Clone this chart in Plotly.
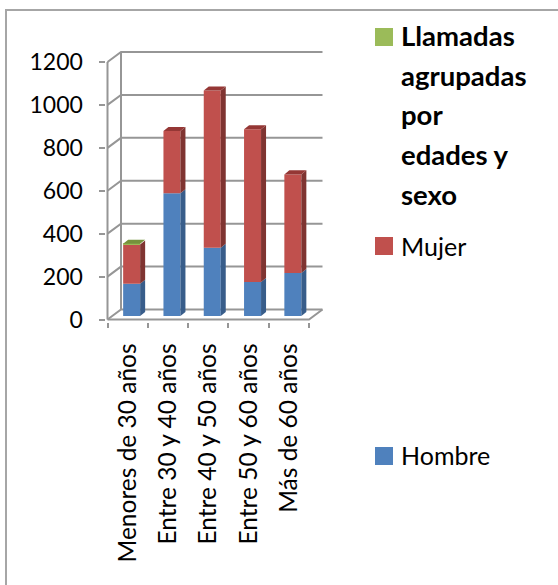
import plotly.graph_objects as go

categories = ["Menores de 30 años", "Entre 30 y 40 años", "Entre 40 y 50 años", "Entre 50 y 60 años", "Más de 60 años"]
hombre = [150, 572, 318, 158, 200]
mujer = [183, 290, 733, 712, 460]
otros = [4, 0, 0, 0, 0]
y_ticks = [0, 200, 400, 600, 800, 1000, 1200]
series_names = ["Hombre", "Mujer", "Llamadas agrupadas por edades y sexo"]
title_lines = ["Llamadas", "agrupadas", "por", "edades y", "sexo"]
FONT = "Lato, Carlito, sans-serif"
TXT = "#000000"
GRID = "#969696"

W, H = 558, 585
px_x = 40.3  # pixels per category
px_y = 257.5 / 1200  # pixels per value unit
dep_x, dep_y = 13.5 / px_x, 10 / px_y  # depth of the 3D box
x0, x1 = -0.5, 4.5
pad = 2
L, R = 107.5 - pad, 309 + 13.5 + pad
B, T = 319.5 + pad, 62 - 10 - pad
pad_x, pad_y = pad / px_x, pad / px_y

fig = go.Figure()

def face(xs, ys, color):
    fig.add_trace(go.Scatter(x=xs, y=ys, mode="lines", fill="toself", fillcolor=color,
                             line=dict(width=0, color=color), hoverinfo="skip", showlegend=False))

shapes = []

def line(xs, ys):
    path = "M" + "L".join(f"{a},{b}" for a, b in zip(xs, ys))
    shapes.append(dict(type="path", path=path, xref="x", yref="y", layer="below",
                       line=dict(color=GRID, width=2), fillcolor="rgba(0,0,0,0)"))

# walls
for v in y_ticks:
    line([x0, x0 + dep_x, x1 + dep_x], [v, v + dep_y, v + dep_y])
line([x0, x0], [0, 1200])
line([x0 + dep_x, x0 + dep_x], [dep_y, 1200 + dep_y])
line([x0, x1, x1 + dep_x], [0, 0, dep_y])

# bars
bar_w = 17 / px_x
shift_x, shift_y = 4 / px_x, 3.5 / px_y
side_x, side_y = 5 / px_x, 4 / px_y
colors = [("#4F81BD", "#385D8A", "#3E6696"), ("#C0504D", "#7F3431", "#953735"), ("#9BBB59", "#6F8A3A", "#76923C")]
xc = [i + shift_x for i in range(len(categories))]
bottom = [shift_y] * len(categories)
for name, vals, (front, side, top) in zip(series_names, [hombre, mujer, otros], colors):
    fig.add_trace(go.Bar(x=xc, y=vals, base=bottom, width=bar_w, marker=dict(color=front, line=dict(width=0)),
                         name=name, showlegend=False))
    tops = [b + v for b, v in zip(bottom, vals)]
    for c, b, t, v in zip(xc, bottom, tops, vals):
        if v <= 0:
            continue
        r = c + bar_w / 2
        face([r, r + side_x, r + side_x, r, r], [b, b + side_y, t + side_y, t, b], side)
    bottom = tops
for i, c in enumerate(xc):
    seg = [hombre[i], mujer[i], otros[i]]
    idx = max(j for j, v in enumerate(seg) if v > 0)
    t = bottom[i]
    l, r = c - bar_w / 2, c + bar_w / 2
    face([l, r, r + side_x, l + side_x, l], [t, t, t + side_y, t + side_y, t], colors[idx][2])

shapes.append(dict(type="rect", xref="paper", yref="paper", x0=6 / W, x1=1.02, y0=-0.02, y1=1 - 10 / H,
                   line=dict(color="#A6A6A6", width=2), fillcolor="rgba(0,0,0,0)"))
for yy, c in [((28, 46), "#9BBB59"), ((237, 255), "#C0504D"), ((447, 465), "#4F81BD")]:
    shapes.append(dict(type="rect", xref="paper", yref="paper", x0=375 / W, x1=393 / W, y0=1 - yy[1] / H,
                       y1=1 - yy[0] / H, line=dict(width=0), fillcolor=c))

annotations = [
    dict(text=t, x=399 / W, y=1 - (35 + 40 * i) / H, xref="paper", yref="paper", xanchor="left", yanchor="middle",
         showarrow=False, font=dict(size=27.5, family=FONT, color=TXT, weight="bold"))
    for i, t in enumerate(title_lines)
] + [
    dict(text=series_names[1], x=399 / W, y=1 - 246 / H, xref="paper", yref="paper", xanchor="left", yanchor="middle",
         showarrow=False, font=dict(size=25, family=FONT, color=TXT)),
    dict(text=series_names[0], x=399 / W, y=1 - 455 / H, xref="paper", yref="paper", xanchor="left", yanchor="middle",
         showarrow=False, font=dict(size=25, family=FONT, color=TXT)),
]

fig.update_layout(
    template="none",
    width=W, height=H, autosize=False, barmode="overlay",
    paper_bgcolor="white", plot_bgcolor="rgba(0,0,0,0)", showlegend=False,
    margin=dict(l=0, r=0, t=0, b=0, autoexpand=False),
    font=dict(family=FONT, color=TXT),
    xaxis=dict(domain=[L / W, R / W], range=[x0 - pad_x, x1 + dep_x + pad_x], tickmode="array", automargin=False,
               tickvals=list(range(len(categories))), ticktext=categories, tickangle=-90, showgrid=False,
               zeroline=False, ticks="", ticklen=0, ticklabelstandoff=16, showline=False,
               minor=dict(tickmode="array", tickvals=[x0 + i for i in range(len(categories) + 1)], ticks="outside",
                          ticklen=5, tickwidth=2, tickcolor=GRID, showgrid=False),
               tickfont=dict(size=24.5, family=FONT, color=TXT)),
    yaxis=dict(domain=[1 - B / H, 1 - T / H], range=[-pad_y, 1200 + dep_y + pad_y], tickmode="array", tickvals=y_ticks,
               showgrid=False, zeroline=False, ticks="outside", ticklen=6, tickwidth=2, tickcolor=GRID, automargin=False,
               ticklabelstandoff=11, showline=False, tickfont=dict(size=23, family=FONT, color=TXT)),
    shapes=shapes,
    annotations=annotations,
)
fig.write_html("out.html", config=dict(displayModeBar=False),
               post_script="document.body.style.margin='0';document.documentElement.style.overflow='hidden';")
